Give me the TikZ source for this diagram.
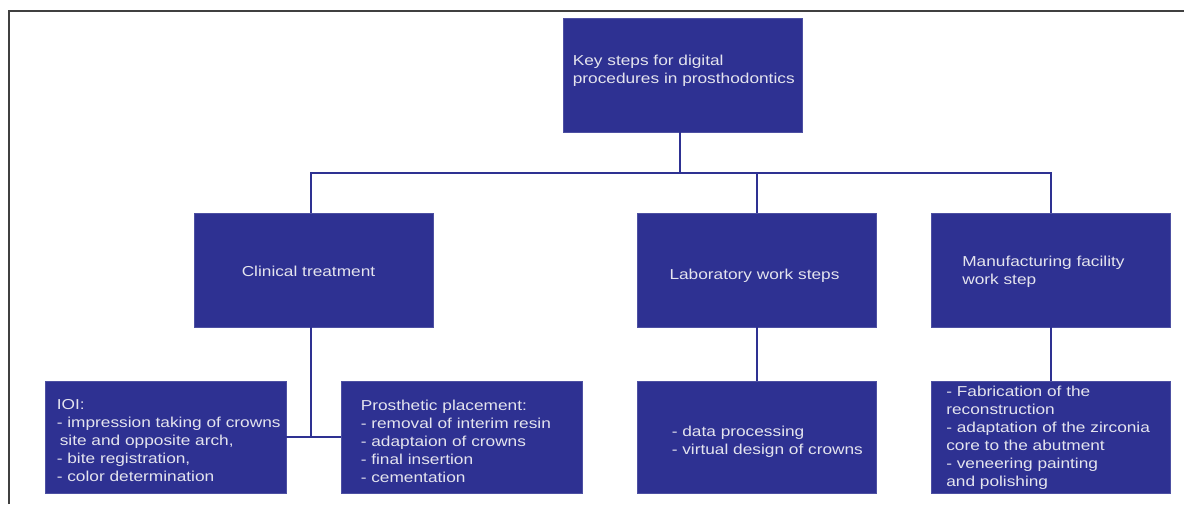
\documentclass[tikz,border=0pt]{standalone}
\usepackage{fontspec}
\setmainfont{Liberation Sans}[FakeStretch=1.2]
\usetikzlibrary{positioning}
\definecolor{boxblue}{RGB}{46,49,146}
\definecolor{boxtext}{RGB}{228,228,238}
\definecolor{framegray}{RGB}{64,64,64}

\begin{document}
\begin{tikzpicture}[x=1pt,y=1pt,yscale=-1,xscale=1,
  box/.style={fill=boxblue,draw=boxblue!85!white,line width=0.8pt,minimum width=239pt,minimum height=114pt,inner sep=0pt},
  txt/.style={text=boxtext,align=left,inner sep=0pt,font=\fontsize{14.4}{18}\selectfont},
  link/.style={draw=boxblue,line width=2pt}]
\useasboundingbox (0,0) rectangle (1184,504);
%Frame
\draw [framegray,line width=1.2pt] (9,504) -- (9,11) -- (1184,11) ;

%Shape: Rectangle [top]
\node [box] (key) at (682.5,75) {};
%Shape: Rectangle [second row]
\node [box] (clin) at (313.5,270) {};
\node [box] (lab) at (756.5,270) {};
\node [box] (manu) at (1051,270) {};
%Shape: Rectangle [bottom row]
\node [box,minimum width=241pt,minimum height=112pt] (ioi) at (165.5,437) {};
\node [box,minimum width=241pt,minimum height=112pt] (pros) at (461.5,437) {};
\node [box,minimum height=112pt] (data) at (756.5,437) {};
\node [box,minimum height=112pt] (fab) at (1051,437) {};

%Connectors
\coordinate (bus) at (0,173);
\draw [link] ([xshift=-2.5pt]key.south) -- ([xshift=-2.5pt]key.south |- bus) ;
\draw [link] ([xshift=-3pt]clin.north) -- ([xshift=-3pt]clin.north |- bus) -- (manu.north |- bus) -- (manu.north) ;
\draw [link] (lab.north) -- (lab.north |- bus) ;
\draw [link] ([xshift=-3pt]clin.south) -- ([xshift=-3pt]clin.south |- ioi.east) ;
\draw [link] (ioi.east) -- (pros.west) ;
\draw [link] (lab.south) -- (data.north) ;
\draw [link] (manu.south) -- (fab.north) ;

% Text Node
\node [txt,anchor=west] (keyT) at ([xshift=10pt,yshift=-4pt]key.west) {Key steps for digital\\procedures in prosthodontics};
% Text Node
\node [txt] (clinT) at ([xshift=-5pt,yshift=1pt]clin.center) {Clinical treatment};
% Text Node
\node [txt] (labT) at ([xshift=-2pt,yshift=6pt]lab.center) {Laboratory work steps};
% Text Node
\node [txt,anchor=west] (manuT) at ([xshift=31pt,yshift=1.5pt]manu.west) {Manufacturing facility\\work step};
% Text Node
\node [txt,anchor=west] (ioiT) at ([xshift=12pt,yshift=4pt]ioi.west) {IOI:\\- impression taking of crowns\\\hspace*{3pt}site and opposite arch,\\- bite registration,\\- color determination};
% Text Node
\node [txt,anchor=west] (prosT) at ([xshift=20pt,yshift=4pt]pros.west) {Prosthetic placement:\\- removal of interim resin\\- adaptaion of crowns\\- final insertion\\- cementation};
% Text Node
\node [txt,anchor=west] (dataT) at ([xshift=35pt,yshift=5pt]data.west) {- data processing\\- virtual design of crowns};
% Text Node
\node [txt,anchor=west] (fabT) at ([xshift=15pt,yshift=0.5pt]fab.west) {- Fabrication of the\\reconstruction\\- adaptation of the zirconia\\core to the abutment\\- veneering painting\\and polishing};
\end{tikzpicture}
\end{document}
